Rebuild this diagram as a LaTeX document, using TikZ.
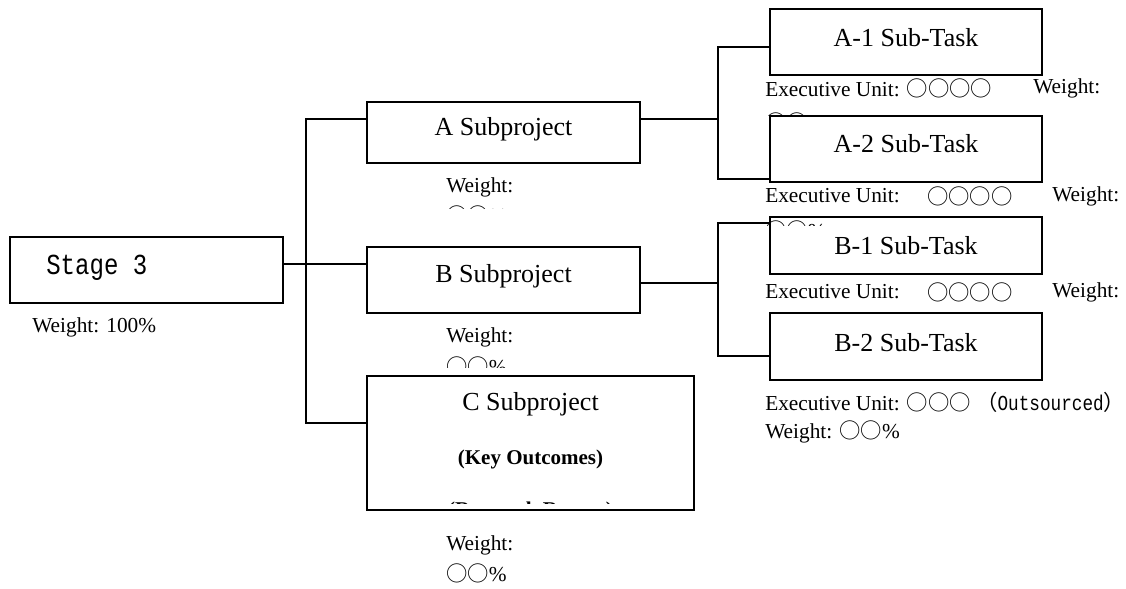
\documentclass[tikz,border=0pt]{standalone}
\usepackage{fontspec}
\setmainfont{Liberation Serif}
\newfontfamily\cjkf{Noto Sans CJK SC}
\newfontfamily\monof[FakeStretch=0.83]{Liberation Mono}
\newcommand{\circs}[1]{{\cjkf #1}}
\begin{document}
\begin{tikzpicture}[x=0.75pt,y=-0.75pt,
  box/.style={draw,line width=1.1pt,fill=white,inner sep=0pt},
  ttl/.style={font=\fontsize{19.5}{23}\selectfont,inner sep=0pt},
  lbl/.style={font=\fontsize{16}{18}\selectfont,inner sep=0pt,anchor=west},
  conn/.style={line width=1pt}]
\useasboundingbox (0,0) rectangle (1126,588);

% boxes
\node[box,minimum width=204.75pt,minimum height=49.5pt] (stage) at (146.5,270) {};
\node[box,minimum width=204.75pt,minimum height=45.75pt] (a) at (503.5,132.5) {};
\node[box,minimum width=204.75pt,minimum height=49.5pt] (b) at (503.5,280) {};
\node[box,minimum width=245.25pt,minimum height=100.5pt] (c) at (530.5,443) {};
\node[box,minimum width=204pt,minimum height=49.5pt] (a1) at (906,42) {};
\node[box,minimum width=204pt,minimum height=49.5pt] (a2) at (906,149) {};
\node[box,minimum width=204pt,minimum height=42.75pt] (b1) at (906,245.5) {};
\node[box,minimum width=204pt,minimum height=50.25pt] (b2) at (906,346.5) {};

% connectors
\coordinate (jA) at (306,119);
\coordinate (jB) at (306,264);
\coordinate (jC) at (306,423);
\coordinate (kA) at (718,119);
\coordinate (kA1) at (718,47);
\coordinate (kA2) at (718,179);
\coordinate (kB) at (718,283);
\coordinate (kB1) at (718,223);
\coordinate (kB2) at (718,356);
\draw[conn] (stage.east |- jB) -- (b.west |- jB);
\draw[conn] (jA -| a.west) -- (jA) -- (jC) -- (jC -| c.west);
\draw[conn] (a.east |- kA) -- (kA);
\draw[conn] (kA1 -| a1.west) -- (kA1) -- (kA2) -- (kA2 -| a2.west);
\draw[conn] (b.east |- kB) -- (kB);
\draw[conn] (kB1 -| b1.west) -- (kB1) -- (kB2) -- (kB2 -| b2.west);

% titles
\node[font=\monof\fontsize{21.75}{24}\selectfont,inner sep=0pt,anchor=west] (ts) at (46,268) {Stage 3};
\node[ttl] (ta) at (503.5,129) {A Subproject};
\node[ttl] (tb) at (503.5,276) {B Subproject};
\node[ttl] (tc) at (530.5,404) {C Subproject};
\node[font=\bfseries\fontsize{15.75}{18}\selectfont,inner sep=0pt] (tk) at (530.5,459) {(Key Outcomes)};
\begin{scope}
\clip (440,498) rectangle (620,503);
\node[font=\bfseries\fontsize{15.75}{18}\selectfont,inner sep=0pt] (tr) at (530.5,511) {(Research Report)};
\end{scope}
\node[ttl] (ta1) at (906,38) {A-1 Sub-Task};
\node[ttl] (ta2) at (906,144) {A-2 Sub-Task};
\node[ttl] (tb1) at (906,246) {B-1 Sub-Task};
\node[ttl] (tb2) at (906,343) {B-2 Sub-Task};

% labels
\node[lbl] (ws) at (32,327) {Weight: 100\%};

\node[lbl] (wa) at (446,187) {Weight:};
\begin{scope}
\clip (440,195) rectangle (520,208);
\node[lbl] (wa2) at (446,215) {\circs{○○}\%};
\end{scope}

\node[lbl] (wb) at (446,337) {Weight:};
\begin{scope}
\clip (440,345) rectangle (520,367);
\node[lbl] (wb2) at (446,366) {\circs{○○}\%};
\end{scope}

\node[lbl] (wc) at (446,545) {Weight:};
\node[lbl] (wc2) at (446,573) {\circs{○○}\%};

\node[lbl] (ea1) at (765,88) {Executive Unit: \circs{○○○○}};
\node[lbl] (wa1) at (1033,88) {Weight:};
\begin{scope}
\clip (760,100) rectangle (860,116);
\node[lbl] (wa1b) at (765,122) {\circs{○○}\%};
\end{scope}

\node[lbl] (ea2) at (765,196) {Executive Unit:};
\node[lbl] (ca2) at (927,196) {\circs{○○○○}};
\node[lbl] (wa2x) at (1052,196) {Weight:};
\begin{scope}
\clip (760,205) rectangle (860,225);
\node[lbl] (wa2b) at (765,230) {\circs{○○}\%};
\end{scope}

\node[lbl] (eb1) at (765,292) {Executive Unit:};
\node[lbl] (cb1) at (927,292) {\circs{○○○○}};
\node[lbl] (wb1) at (1052,292) {Weight:};

\node[lbl] (eb2) at (765,402) {Executive Unit: \circs{○○○} \circs{（}{\monof Outsourced}\circs{）}};
\node[lbl] (wb2x) at (765,432) {Weight: \circs{○○}\%};
\end{tikzpicture}
\end{document}
